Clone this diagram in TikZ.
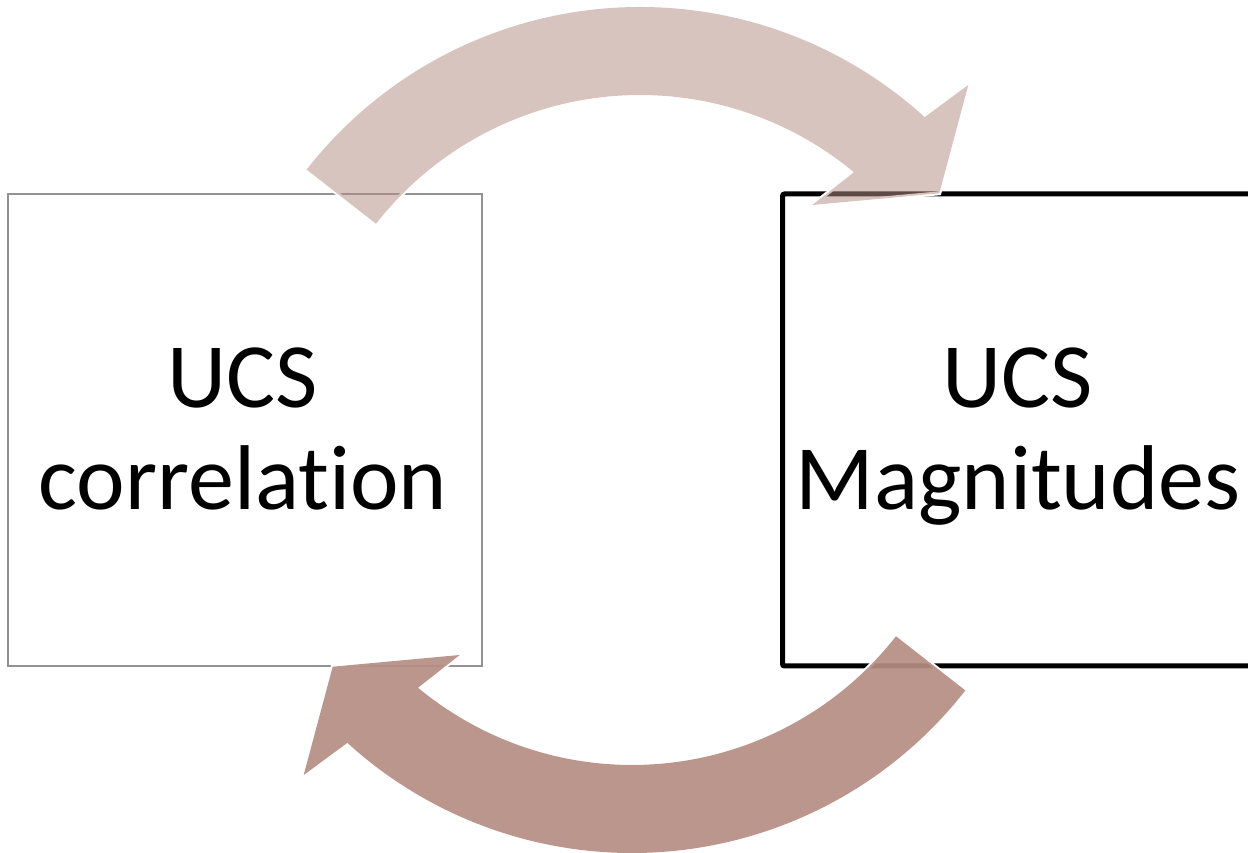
\documentclass[tikz,border=0pt]{standalone}
\usepackage{fontspec}
\setmainfont{Carlito}[Ligatures={NoCommon,NoDiscretionary}]
\definecolor{arrowcol}{RGB}{181,142,131}
\definecolor{boxgray}{RGB}{146,146,146}
\tikzset{
  boxA/.style={draw=boxgray, line width=2pt, minimum width=473.4pt, minimum height=472pt, inner sep=0pt},
  boxB/.style={draw=black, line width=5pt, rounded corners=2pt, minimum width=473.5pt, minimum height=472pt, inner sep=0pt},
  lbl/.style={anchor=base, inner sep=0pt, font=\fontsize{92}{102}\selectfont},
  circarrow/.style={fill=arrowcol, preaction={draw=white, line width=4pt, line join=miter}},
}
\newcommand{\circpath}{(142:423pt) arc[start angle=142, end angle=47.7, radius=423pt] -- (328.3pt,345pt) -- (299.3pt,236.7pt) -- (172.3pt,225pt) -- (50.3:335pt) arc[start angle=50.3, end angle=142, radius=335pt] -- cycle}
\begin{document}
\begin{tikzpicture}[x=1pt,y=1pt]
\useasboundingbox (0,0) rectangle (1248,852);
\fill[white] (0,0) rectangle (1248,852);
% boxes
\node[boxA] (lbox) at (245,422) {};
\node[boxB] (rbox) at (1019.25,422) {};
% labels
\node[lbl] (lt1) at (243,444) {UCS};
\node[lbl] (lt2) at (243,342) {correlation};
\node[lbl] (rt1) at (1018,444) {UCS};
\node[lbl] (rt2) at (1018,342) {Magnitudes};
% top circular arrow (left -> right)
\begin{scope}[shift={(640,422)}]
  \path[circarrow, fill opacity=0.52] \circpath;
\end{scope}
% bottom circular arrow (right -> left)
\begin{scope}[shift={(632,422)}, rotate=180]
  \path[circarrow, fill opacity=0.92] \circpath;
\end{scope}
\end{tikzpicture}
\end{document}
